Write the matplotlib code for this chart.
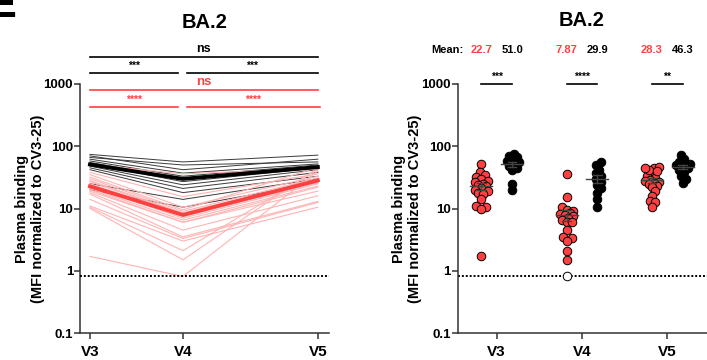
import numpy as np
import matplotlib.pyplot as plt

plt.rcParams['font.family'] = ['Liberation Sans', 'DejaVu Sans']
plt.rcParams['font.weight'] = 'bold'
plt.rcParams['axes.labelweight'] = 'bold'

# ---- data ----
visits = ["V3", "V4", "V5"]

# group shown in red (n=20), one row per donor across visits
red_v3 = [51, 38, 35, 32, 30, 28, 27, 25, 24, 23, 21, 20, 19, 18, 17, 14, 11, 10.5, 10, 1.7]
red_v4 = [36, 15.5, 10.5, 9.5, 9, 8.5, 8.2, 8, 7.5, 7, 6.5, 6, 6, 4.5, 3.5, 3.3, 3, 2.1, 1.5, 0.81]
red_v5 = [44, 36, 33, 46, 31, 29, 28, 27, 26, 25, 23, 22, 19, 16, 13, 12.5, 10.5, 42, 45, 40]

# group shown in black (n=12)
black_v3 = [74, 70, 66, 62, 58, 55, 52, 48, 45, 42, 25, 20]
black_v4 = [56, 42, 50, 37, 33, 30, 27, 24, 21, 18, 14, 10.5]
black_v5 = [72, 62, 56, 52, 50, 47, 45, 42, 38, 33, 30, 26]

mean_red = [22.7, 7.87, 28.3]
mean_black = [51.0, 29.9, 46.3]
mean_red_txt = ["22.7", "7.87", "28.3"]
mean_black_txt = ["51.0", "29.9", "46.3"]
sig_right = ["***", "****", "**"]
LOD = 0.81

RED = "#ff4040"
PINK = "#ffb4b4"


def style_axes(ax):
    for s in ("top", "right"):
        ax.spines[s].set_visible(False)
    for s in ("left", "bottom"):
        ax.spines[s].set_linewidth(1.1)
        ax.spines[s].set_color("#333333")
    ax.set_yscale("log")
    ax.set_ylim(0.1, 1000)
    ax.set_yticks([0.1, 1, 10, 100, 1000])
    ax.set_yticklabels(["0.1", "1", "10", "100", "1000"])
    ax.minorticks_off()
    ax.tick_params(axis="y", length=4, width=1.1, color="#333333",
                   labelsize=9.5, pad=1)
    ax.tick_params(axis="x", length=4, width=1.1, color="#333333",
                   labelsize=11, pad=5)
    ax.set_ylabel("Plasma binding\n(MFI normalized to CV3-25)", fontsize=10.5,
                  fontweight="bold", linespacing=1.15)
    ax.yaxis.set_label_coords(-0.14, 0.5)


def swarm(vals, dx=0.05, dy=0.085, step=0.02, max_off=0.08):
    """simple deterministic beeswarm offsets (x units / log10 units)."""
    y = np.log10(np.asarray(vals, float))
    offs = np.zeros(len(y))
    placed = []
    cands = [0.0]
    k = 1
    while k * step <= max_off + 1e-9:
        cands += [k * step, -k * step]
        k += 1
    for i in np.argsort(y):
        best, best_d = 0.0, -1
        for c in cands:
            d = min([((c - xo) / dx) ** 2 + ((y[i] - yo) / dy) ** 2
                     for xo, yo in placed] or [9])
            if d >= 1:
                best = c
                break
            if d > best_d:
                best, best_d = c, d
        offs[i] = best
        placed.append((best, y[i]))
    return offs


fig = plt.figure(figsize=(7.07, 3.6), dpi=100)

# panel letter, cut at the edge as in the source
fig.text(-0.016, 0.953, "E", fontsize=30, fontweight="bold", ha="left", va="baseline")

# ---------------- left panel: paired lines ----------------
axL = fig.add_axes([80 / 707, 1 - 333 / 360, 249 / 707, 249 / 360])
style_axes(axL)
xpos = [0, 1, 2.45]
axL.set_xlim(-0.107, 2.57)
axL.set_xticks(xpos)
axL.set_xticklabels(visits)

for a, b, c in zip(black_v3, black_v4, black_v5):
    axL.plot(xpos, [a, b, c], color="#3a3a3a", lw=0.7, zorder=2)
for a, b, c in zip(red_v3, red_v4, red_v5):
    axL.plot(xpos, [a, b, c], color=PINK, lw=0.8, zorder=3)
axL.plot(xpos, mean_black, color="black", lw=2.8, zorder=4)
axL.plot(xpos, mean_red, color=RED, lw=2.8, zorder=5)
axL.axhline(LOD, color="black", ls=(0, (1, 1)), lw=1.4, zorder=6)


def sig(ax, x0, x1, y, txt, color, fs):
    ax.plot([x0, x1], [y, y], color=color, lw=1.2, clip_on=False)
    ax.text((x0 + x1) / 2, y * 1.08, txt, color=color, fontsize=fs,
            ha="center", va="bottom", fontweight="bold", clip_on=False)


sig(axL, 0, 2.45, 2741, "ns", "black", 9)
sig(axL, 0, 0.95, 1502, "***", "black", 7.5)
sig(axL, 1.04, 2.45, 1502, "***", "black", 7.5)
sig(axL, 0, 2.45, 801, "ns", RED, 9.5)
sig(axL, 0, 0.95, 428, "****", RED, 7.5)
sig(axL, 1.04, 2.47, 428, "****", RED, 7.5)

fig.text(205 / 707, 1 - 23 / 360, "BA.2", fontsize=14.5, fontweight="bold",
         ha="center", va="center")

# ---------------- right panel: scatter ----------------
axR = fig.add_axes([457.7 / 707, 1 - 333 / 360, (707 - 457.7) / 707, 249 / 360])
style_axes(axR)
axR.yaxis.set_label_coords(-0.143, 0.5)
axR.set_xlim(-0.457, 2.465)
axR.set_xticks([0, 1, 2])
axR.set_xticklabels(visits)
axR.axhline(LOD, color="black", ls=(0, (1, 1)), lw=1.4, zorder=1)

red_sets = [red_v3, red_v4, red_v5]
black_sets = [black_v3, black_v4, black_v5]
gap = 0.18
mean_row_y = 3516
for j in range(3):
    for vals, off, fc, m in ((red_sets[j], -gap, RED, mean_red[j]),
                             (black_sets[j], gap, "black", mean_black[j])):
        v = np.asarray(vals, float)
        xs = j + off + swarm(v)
        below = v <= LOD
        axR.scatter(xs[~below], v[~below], s=38, facecolor=fc,
                    edgecolor="black", linewidth=0.7, zorder=3)
        if below.any():
            axR.scatter(xs[below], v[below], s=38, facecolor="white",
                        edgecolor="black", linewidth=0.7, zorder=3)
        sem = v.std(ddof=1) / np.sqrt(len(v))
        cx = j + off
        axR.plot([cx - 0.13, cx + 0.13], [m, m], color="#444444", lw=1.0, zorder=4)
        axR.plot([cx, cx], [m - sem, m + sem], color="#444444", lw=1.0, zorder=4)
        for yy in (m - sem, m + sem):
            axR.plot([cx - 0.05, cx + 0.05], [yy, yy], color="#444444", lw=1.0, zorder=4)
    # significance bar between the two groups
    axR.plot([j - gap, j + gap], [1000, 1000], color="black", lw=1.2, clip_on=False)
    axR.text(j, 1080, sig_right[j], fontsize=7.5, ha="center", va="bottom",
             fontweight="bold", clip_on=False)
    # mean values row
    axR.text(j - gap, mean_row_y, mean_red_txt[j], color=RED, fontsize=8,
             ha="center", va="center", fontweight="bold", clip_on=False)
    axR.text(j + gap, mean_row_y, mean_black_txt[j], color="black", fontsize=8,
             ha="center", va="center", fontweight="bold", clip_on=False)

axR.text(-gap - 0.21, mean_row_y, "Mean:", fontsize=8, ha="right", va="center",
         fontweight="bold", clip_on=False)
fig.text(582 / 707, 1 - 20 / 360, "BA.2", fontsize=14.5, fontweight="bold",
         ha="center", va="center")

fig.savefig("out.png", dpi=100)
